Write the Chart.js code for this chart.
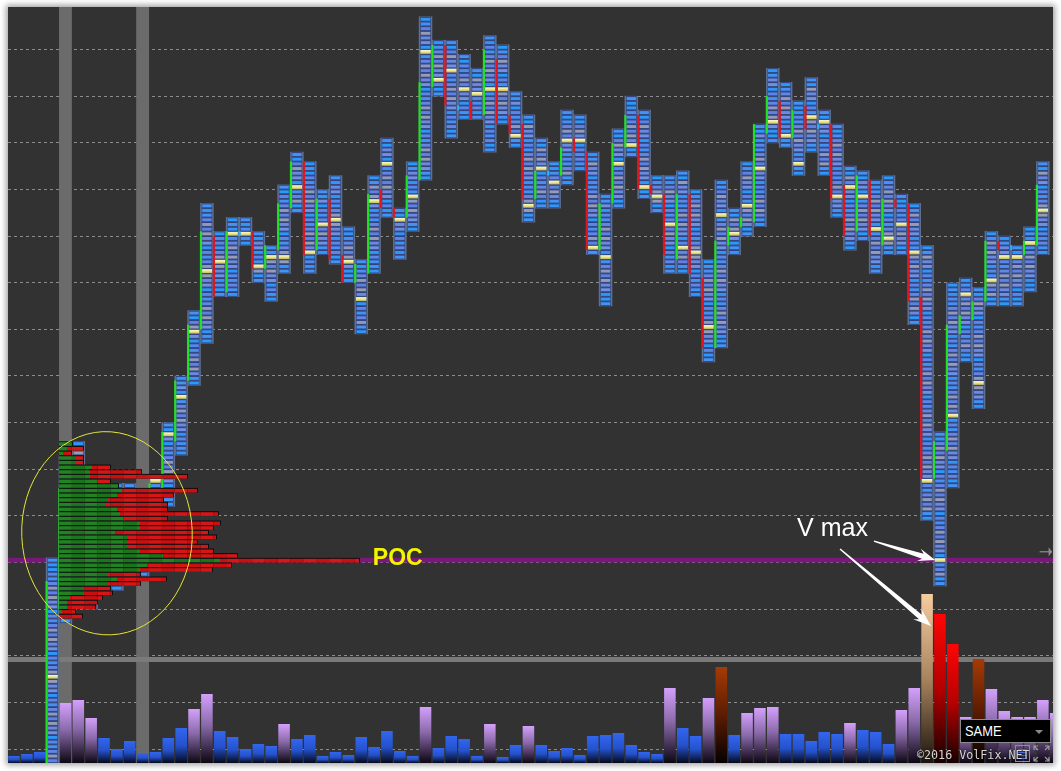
<!DOCTYPE html>
<html>
<head>
<meta charset="utf-8">
<title>VolFix cluster chart</title>
<script src="https://cdn.jsdelivr.net/npm/chart.js@4.4.1/dist/chart.umd.min.js"></script>
<style>
  html, body { margin:0; padding:0; width:1061px; height:771px; background:#ffffff; overflow:hidden; }
  #panel { position:absolute; left:8px; top:7px; width:1045px; height:756px; background:#323232; box-shadow:0 0 6px 2px rgba(0,0,0,0.38); }
  #chart { position:absolute; left:0; top:0; }
  #same { position:absolute; left:952px; top:712px; width:89px; height:22px; background:#000; border:1px solid #8a8a8a; }
  #same span { position:absolute; left:4px; top:2px; color:#fff; font:15px "Liberation Sans Narrow","Liberation Sans",Arial,sans-serif; transform:scaleX(0.86); transform-origin:left center; }
  #same i { position:absolute; right:7px; top:10px; width:0; height:0; border-left:4px solid transparent; border-right:4px solid transparent; border-top:4px solid #8a8a8a; }
  #copy { position:absolute; left:909px; top:741px; color:#d6d6d6; font:11.7px "DejaVu Sans Mono",monospace; white-space:nowrap; text-shadow:0 0 2px #000; }
  #icon1 { position:absolute; left:1007px; top:738px; width:13px; height:15px; border:1px solid #2fd02f; }
  #icon1 b { position:absolute; left:2px; width:9px; height:1px; background:#4a78e8; }
  #icon2 { position:absolute; left:1025px; top:738px; width:17px; height:17px; }
</style>
</head>
<body>
<div id="panel">
  <canvas id="chart" width="1045" height="756"></canvas>
  <div id="same"><span>SAME</span><i></i></div>
  <div id="icon1"><b style="top:3px"></b><b style="top:6px"></b><b style="top:9px;background:#e03030"></b><b style="top:12px"></b></div>
  <svg id="icon2" viewBox="0 0 17 17"><g stroke="#9a9a9a" stroke-width="1.2" fill="none"><path d="M1 5V1H5M1 1L5 5"/><path d="M12 1H16V5M16 1L12 5"/><path d="M1 12V16H5M1 16L5 12"/><path d="M16 12V16H12M16 16L12 12"/></g></svg>
  <div id="copy">©2016 VolFix.NET</div>
</div>
<script>
// ---------- data (price in ticks, one cell = one tick) ----------
const columnIds = Array.from({length: 82}, (_, i) => i + 1);

const high = [null,null,null,
  40,62,65,52,58,56,56,54,57,69,
  79,93,116,110,113,113,110,107,120,127,
  125,119,122,111,104,122,130,115,125,156,
  151,151,148,145,152,150,140,135,130,125,
  136,135,127,118,132,139,136,122,122,123,
  119,104,121,115,125,133,145,142,138,143,
  136,133,124,123,121,122,118,116,107,67,
  99,100,98,110,109,107,111,125, null];

const low = [null,null,null,
  -12,27,32,30,36,34,37,37,52,52,
  63,78,87,97,97,108,100,96,102,115,
  102,106,104,100,89,102,114,105,111,122,
  140,131,135,135,128,134,129,113,116,116,
  121,124,106,95,116,127,118,115,102,102,
  97,83,86,106,110,112,130,129,123,128,
  123,114,107,109,102,106,106,91,49,35,
  56,83,73,95,95,95,98,106, null];

const open = [null,null,null,
  -8,30,60,48,38,50,40,50,52,56,
  66,79,90,109,98,110,110,103,107,116,
  125,107,117,105,100,102,119,115,114,122,
  142,150,137,138,136,147,135,133,118,123,
  123,130,127,107,117,129,135,120,118,105,
  118,100,86,108,112,113,132,138,131,137,
  133,133,120,111,121,108,117,116,96,58,
  64,89,92,96,108,107,106,108, null];

const close = [null,null,null,
  35,55,42,36,52,40,52,42,56,67,
  78,90,110,97,110,110,103,107,116,125,
  106,117,105,100,103,118,116,114,122,142,
  150,138,137,135,149,134,132,118,123,123,
  128,128,107,116,129,135,120,119,106,118,
  102,86,108,111,113,133,139,131,136,133,
  133,118,110,122,110,117,116,96,58,65,
  90,92,95,108,107,107,108,120, null];

const poc = [null,null,null,
  15,40,46,41,44,43,45,44,57,67,
  75,89,102,104,110,110,103,105,105,120,
  106,112,113,104,96,117,125,113,118,149,
  143,145,141,140,141,141,131,116,124,121,
  130,130,107,105,125,129,120,118,112,107,
  106,90,114,110,116,124,134,131,125,135,
  134,118,120,118,111,109,112,106,57,40,
  71,97,78,100,105,105,108,115, null];

const volume = [
  7,9,11,20,60,63,45,25,14,22,
  10,11,25,35,54,69,32,26,14,19,
  17,39,24,28,7,11,8,26,16,32,
  12,7,56,15,27,24,7,39,6,18,
  37,18,12,15,8,27,28,30,18,11,
  9,75,35,27,65,96,28,50,55,56,
  29,29,22,31,29,40,33,31,19,53,
  75,169,149,119,46,104,74,52,46,46,
  63,50];

// session volume profile (left), one row per price tick
const profilePrice = [65,64,63,62,61,60,59,58,57,56,55,54,53,52,51,50,49,48,47,46,45,44,43,42,41,40,39,38,37,36,35,34,33,32,31,30,29,28];
const profileBuy   = [13,8,4,16,16,33,31,31,38,59,63,58,48,47,58,61,64,81,81,56,68,68,68,81,104,161,88,81,48,58,48,24,24,11,8,8,3,1];
const profileTotal = [13,24,12,24,24,51,82,128,51,59,138,114,104,108,108,159,108,161,154,149,157,138,149,154,178,300,172,153,81,107,81,51,53,43,38,36,16,23];

const sessionPoc = 40;          // POC price level
const sessionBands = [5, 11];   // highlighted session-start columns
const gridLevels = [-0.5,9.5,19.5,29.5,39.5,49.5,59.5,69.5,79.5,89.5,99.5,109.5,119.5,129.5,139.5,149.5];
const panelDivider = 103.5;     // volume-axis level of the pane divider

// ---------- styling helpers ----------
const cellPalette = ['#6385e4', '#7390e0', '#9099bb', '#2f95f7', '#5f82e2', '#5a86ea', '#959cb4', '#4690f2', '#6c89dc'];
function cellColor(k, p, lo, hi) {
  if (p >= hi - 1 || p <= lo + 1) return (p + k) % 2 ? '#2e98f8' : '#4592f2';
  return cellPalette[Math.abs(p * 7 + k * 13) % cellPalette.length];
}
const volHighlight = {56: 'brown', 72: 'tan', 73: 'red', 74: 'red', 76: 'brown'};
const volStops = {
  blue:   [[0, '#3366ee'], [0.5, '#2452cc'], [1, '#04081a']],
  purple: [[0, '#d4a0fb'], [0.45, '#8a6aaa'], [1, '#0c0612']],
  tan:    [[0, '#f6cca0'], [0.5, '#a8845f'], [1, '#1c140c']],
  red:    [[0, '#ff0505'], [0.5, '#b40000'], [1, '#160000']],
  brown:  [[0, '#a63b06'], [0.5, '#5c1c02'], [1, '#060000']]
};
function volColor(c) {
  const i = c.dataIndex;
  if (i === undefined || i === null) return '#2f60e0';
  const chart = c.chart, yv = chart.scales.yv;
  const v = volume[i];
  const kind = volHighlight[columnIds[i]] || (v > 36 ? 'purple' : 'blue');
  const top = yv.getPixelForValue(v), bot = yv.getPixelForValue(0);
  if (!isFinite(top) || !isFinite(bot) || bot - top < 1) return volStops[kind][0][1];
  const g = chart.ctx.createLinearGradient(0, top, 0, bot);
  volStops[kind].forEach(s => g.addColorStop(s[0], s[1]));
  return g;
}

function drawArrow(ctx, x1, y1, x2, y2, hl, hw) {
  const dx = x2 - x1, dy = y2 - y1, len = Math.hypot(dx, dy);
  const ux = dx / len, uy = dy / len, nx = -uy, ny = ux;
  const sw0 = 0.7, sw1 = 2.6;
  const bx = x2 - ux * hl, by = y2 - uy * hl;
  const cx = x2 - ux * hl * 0.75, cy = y2 - uy * hl * 0.75;
  ctx.beginPath();
  ctx.moveTo(x1 + nx * sw0, y1 + ny * sw0);
  ctx.lineTo(cx + nx * sw1, cy + ny * sw1);
  ctx.lineTo(bx + nx * hw, by + ny * hw);
  ctx.lineTo(x2, y2);
  ctx.lineTo(bx - nx * hw, by - ny * hw);
  ctx.lineTo(cx - nx * sw1, cy - ny * sw1);
  ctx.lineTo(x1 - nx * sw0, y1 - ny * sw0);
  ctx.closePath();
  ctx.fill();
}

const clusterPlugin = {
  id: 'clusterPlugin',
  beforeDatasetsDraw(chart) {
    const {ctx, chartArea: a, scales: {x, y, yv}} = chart;
    ctx.save();
    ctx.fillStyle = '#6b6b6b';
    sessionBands.forEach(k => {
      const l = x.getPixelForValue(k - 0.5), r = x.getPixelForValue(k + 0.5);
      ctx.fillRect(l, a.top, r - l, a.bottom - a.top);
    });
    const sy = yv.getPixelForValue(panelDivider);
    ctx.fillStyle = '#7a7a7a';
    ctx.fillRect(a.left, sy - 2.5, a.right - a.left, 5);
    const py = y.getPixelForValue(sessionPoc);
    ctx.fillStyle = '#7a177a';
    ctx.fillRect(a.left, py - 2.3, a.right - a.left, 4.6);
    ctx.restore();
  },
  afterDatasetsDraw(chart) {
    const {ctx, chartArea: a, scales: {x, y, xp}} = chart;
    ctx.save();
    ctx.beginPath(); ctx.rect(a.left, a.top, a.right - a.left, a.bottom - a.top); ctx.clip();

    // cluster cells
    const meta = chart.getDatasetMeta(0);
    meta.data.forEach((bar, i) => {
      if (high[i] === null) return;
      const k = columnIds[i];
      const L = bar.x - bar.width / 2, W = bar.width;
      for (let p = low[i]; p <= high[i]; p++) {
        const t = y.getPixelForValue(p + 0.5), b = y.getPixelForValue(p - 0.5);
        if (b < a.top || t > a.bottom) continue;
        const h = b - t;
        ctx.fillStyle = '#2c3f7a';
        ctx.fillRect(L + 1.2, t, W - 2.4, h);
        if (p === poc[i]) {
          const g = ctx.createLinearGradient(0, t, 0, b);
          g.addColorStop(0, '#fdfdd8'); g.addColorStop(0.5, '#ebe690'); g.addColorStop(1, '#b9b04c');
          ctx.fillStyle = g;
          ctx.fillRect(L + 1.2, t + 0.4, W - 2.4, h - 0.8);
        } else {
          ctx.fillStyle = cellColor(k, p, low[i], high[i]);
          ctx.fillRect(L + 1.7, t + 0.9, W - 3.4, h - 1.7);
        }
      }
      const o = open[i], c = close[i];
      const top = y.getPixelForValue(Math.max(o, c) + 0.5), bot = y.getPixelForValue(Math.min(o, c) - 0.5);
      ctx.fillStyle = o === c ? '#22b4ff' : (c > o ? '#22e022' : '#e0161e');
      ctx.fillRect(L - 0.6, top, 2.2, bot - top);
    });

    // session volume profile
    const segFill = (x0, x1, t, h, colors) => {
      let k = Math.floor(x.getValueForPixel(x0) + 0.5);
      let s = x0;
      while (s < x1) {
        const e = Math.min(x1, x.getPixelForValue(k + 0.5));
        if (e > s) { ctx.fillStyle = colors[Math.abs(k) % 2]; ctx.fillRect(s, t, e - s, h); }
        s = Math.max(e, s + 0.01); k++;
      }
    };
    ctx.globalAlpha = 0.94;
    profilePrice.forEach((p, i) => {
      const t = y.getPixelForValue(p + 0.5), b = y.getPixelForValue(p - 0.5);
      const x0 = xp.getPixelForValue(0), xg = xp.getPixelForValue(profileBuy[i]), xt = xp.getPixelForValue(profileTotal[i]);
      ctx.fillStyle = '#0b0b0b';
      ctx.fillRect(x0, t, xt - x0 + 1, b - t);
      segFill(x0, xg, t + 1, b - t - 1, ['#1d7a1d', '#248a24']);
      segFill(xg, xt, t + 1, b - t - 1, ['#e31717', '#d61010']);
    });
    ctx.globalAlpha = 1;

    // highlight ellipse
    const ecx = x.getPixelForValue(8.23), ecy = y.getPixelForValue(45.77);
    const erx = x.getPixelForValue(8.23 + 6.63) - ecx, ery = ecy - y.getPixelForValue(45.77 + 21.8);
    ctx.strokeStyle = '#e4e43a'; ctx.lineWidth = 1;
    ctx.beginPath(); ctx.ellipse(ecx, ecy, erx, ery, -0.04, 0, Math.PI * 2); ctx.stroke();

    // POC label
    ctx.fillStyle = '#f4f400';
    ctx.font = 'bold 23px "Liberation Sans", Arial, sans-serif';
    ctx.textAlign = 'center'; ctx.textBaseline = 'middle';
    ctx.fillText('POC', x.getPixelForValue(30.84), y.getPixelForValue(40.4));

    // V max label and arrows
    ctx.fillStyle = '#ffffff';
    ctx.font = '25px "Liberation Sans", Arial, sans-serif';
    ctx.textAlign = 'left';
    ctx.fillText('V max', x.getPixelForValue(61.89), y.getPixelForValue(46.7));
    drawArrow(ctx, x.getPixelForValue(67.87), y.getPixelForValue(44.1), x.getPixelForValue(72.62), y.getPixelForValue(40.05), 17, 6.5);
    drawArrow(ctx, x.getPixelForValue(65.23), y.getPixelForValue(42.4), x.getPixelForValue(72.31), y.getPixelForValue(25.9), 18, 6.5);

    // right-edge price marker
    const ry = y.getPixelForValue(41.8);
    const rx0 = x.getPixelForValue(80.75), rx1 = x.getPixelForValue(81.45), rx2 = a.right - 1;
    ctx.strokeStyle = '#8e8e8e'; ctx.lineWidth = 1.2;
    ctx.beginPath(); ctx.moveTo(rx0, ry); ctx.lineTo(rx2, ry); ctx.stroke();
    ctx.fillStyle = '#8e8e8e';
    ctx.beginPath(); ctx.moveTo(rx1, ry - 4.5); ctx.lineTo(rx2, ry); ctx.lineTo(rx1, ry + 4.5); ctx.closePath(); ctx.fill();

    ctx.restore();
  }
};

new Chart(document.getElementById('chart'), {
  type: 'bar',
  data: {
    datasets: [
      {
        label: 'clusters',
        data: columnIds.map((k, i) => ({x: k, y: high[i] === null ? null : [low[i] - 0.5, high[i] + 0.5]})),
        xAxisID: 'x', yAxisID: 'y',
        backgroundColor: '#5e6f90', borderWidth: 0,
        barPercentage: 1.0, categoryPercentage: 1.0, grouped: false
      },
      {
        label: 'volume',
        data: columnIds.map((k, i) => ({x: k, y: volume[i]})),
        xAxisID: 'x', yAxisID: 'yv',
        backgroundColor: volColor, borderWidth: 0,
        barPercentage: 0.9, categoryPercentage: 1.0, grouped: false
      }
    ]
  },
  options: {
    responsive: false, animation: false, devicePixelRatio: 1,
    layout: {padding: 0},
    plugins: {legend: {display: false}, tooltip: {enabled: false}},
    scales: {
      x: {type: 'linear', min: 0.5334, max: 81.79, offset: false, display: false},
      xp: {type: 'linear', axis: 'x', min: -51, max: 994, offset: false, display: false},
      y: {
        type: 'linear', position: 'left', min: -3.5, max: 158.63, display: true,
        afterBuildTicks: s => { s.ticks = gridLevels.map(v => ({value: v})); },
        ticks: {display: false},
        grid: {color: '#8c8c8c', lineWidth: 1, drawTicks: false},
        border: {display: false, dash: [3, 3]}
      },
      yv: {type: 'linear', position: 'right', min: 0, max: 756, display: false}
    }
  },
  plugins: [clusterPlugin]
});
</script>
</body>
</html>
